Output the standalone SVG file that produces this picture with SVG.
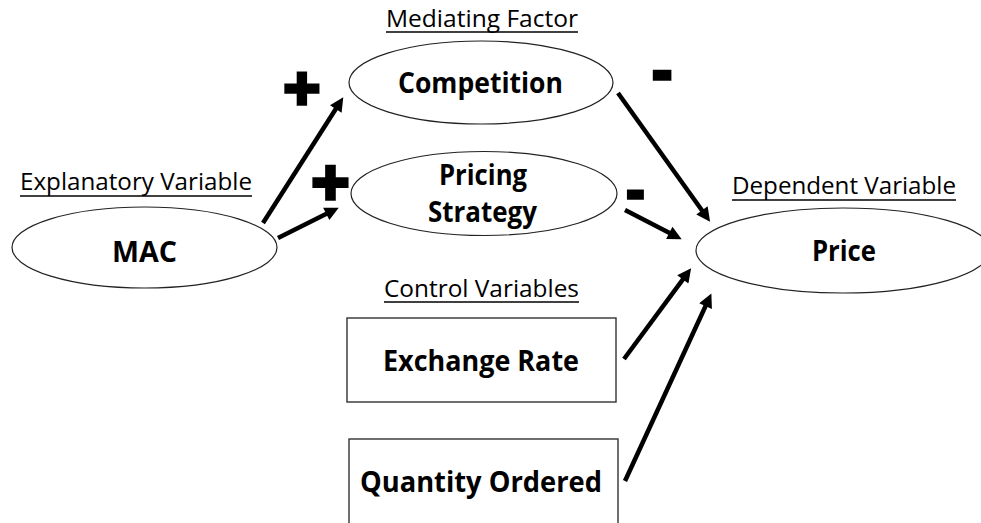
<svg xmlns="http://www.w3.org/2000/svg" width="981" height="523" viewBox="0 0 981 523">
  <style>
    .node { fill: #fff; stroke: #222; stroke-width: 1.2; }
    .box { fill: #fff; stroke: #333; stroke-width: 1.4; }
    .lbl { font-family: "Open Sans", "Liberation Sans", sans-serif; font-weight: 700; font-size: 29px; fill: #000; text-anchor: middle; }
    .cap { font-family: "Open Sans", "Liberation Sans", sans-serif; font-size: 23px; fill: #000; text-anchor: middle; }
    .ul { stroke: #000; stroke-width: 1.5; }
    .sign { font-family: "Open Sans", "Liberation Sans", sans-serif; font-weight: 800; fill: #000; text-anchor: middle; stroke: #000; stroke-width: 1.5; }
    .edge { stroke: #000; stroke-width: 4.5; fill: none; marker-end: url(#head); }
  </style>
  <defs>
    <marker id="head" viewBox="0 0 10 10" refX="3" refY="5" markerWidth="3.6" markerHeight="3.1" orient="auto">
      <path d="M0,0 L10,5 L0,10 z" fill="#000"/>
    </marker>
  </defs>
  <rect width="981" height="523" fill="#fff"/>

  <!-- section captions -->
  <g id="captions">
    <text class="cap" x="482" y="27" textLength="192" lengthAdjust="spacingAndGlyphs">Mediating Factor</text>
    <line class="ul" x1="386" y1="32" x2="578" y2="32"/>
    <text class="cap" x="136" y="190" textLength="232" lengthAdjust="spacingAndGlyphs">Explanatory Variable</text>
    <line class="ul" x1="20" y1="196" x2="252" y2="196"/>
    <text class="cap" x="844" y="194" textLength="224" lengthAdjust="spacingAndGlyphs">Dependent Variable</text>
    <line class="ul" x1="732" y1="200" x2="956" y2="200"/>
    <text class="cap" x="481.5" y="297" textLength="195" lengthAdjust="spacingAndGlyphs">Control Variables</text>
    <line class="ul" x1="384" y1="302" x2="579" y2="302"/>
  </g>

  <!-- nodes -->
  <g id="node-mac">
    <ellipse class="node" cx="144.5" cy="247.5" rx="132.5" ry="40.5"/>
    <text class="lbl" x="144.5" y="262" textLength="65" lengthAdjust="spacingAndGlyphs">MAC</text>
  </g>
  <g id="node-competition">
    <ellipse class="node" cx="481" cy="82.5" rx="132" ry="41.5"/>
    <text class="lbl" x="480.5" y="93" textLength="165" lengthAdjust="spacingAndGlyphs">Competition</text>
  </g>
  <g id="node-pricing-strategy">
    <ellipse class="node" cx="484" cy="193.5" rx="133" ry="42"/>
    <text class="lbl" x="483" y="185" textLength="88" lengthAdjust="spacingAndGlyphs">Pricing</text>
    <text class="lbl" x="482.5" y="222" textLength="109" lengthAdjust="spacingAndGlyphs">Strategy</text>
  </g>
  <g id="node-price">
    <ellipse class="node" cx="843" cy="250.5" rx="147" ry="42.5"/>
    <text class="lbl" x="844" y="261" textLength="64" lengthAdjust="spacingAndGlyphs">Price</text>
  </g>
  <g id="node-exchange-rate">
    <rect class="box" x="347" y="318" width="269" height="84"/>
    <text class="lbl" x="481" y="371" textLength="196" lengthAdjust="spacingAndGlyphs">Exchange Rate</text>
  </g>
  <g id="node-quantity-ordered">
    <rect class="box" x="349" y="439" width="269" height="100"/>
    <text class="lbl" x="481" y="492" textLength="242" lengthAdjust="spacingAndGlyphs">Quantity Ordered</text>
  </g>

  <!-- connectors -->
  <g id="connectors">
    <line class="edge" x1="263" y1="223" x2="338" y2="105.5"/>
    <line class="edge" x1="278" y1="238" x2="330" y2="212"/>
    <line class="edge" x1="618" y1="93" x2="704.4" y2="213.8"/>
    <line class="edge" x1="625" y1="210" x2="673" y2="234.8"/>
    <line class="edge" x1="624" y1="359" x2="685.3" y2="276.1"/>
    <line class="edge" x1="625" y1="481" x2="707.3" y2="302.3"/>
  </g>

  <!-- effect signs -->
  <g id="signs">
    <text class="sign" x="302" y="112" font-size="68">+</text>
    <text class="sign" x="330.5" y="208" font-size="70">+</text>
    <text class="sign" x="662" y="92" font-size="62">-</text>
    <text class="sign" x="635.5" y="210" font-size="56">-</text>
  </g>
</svg>
